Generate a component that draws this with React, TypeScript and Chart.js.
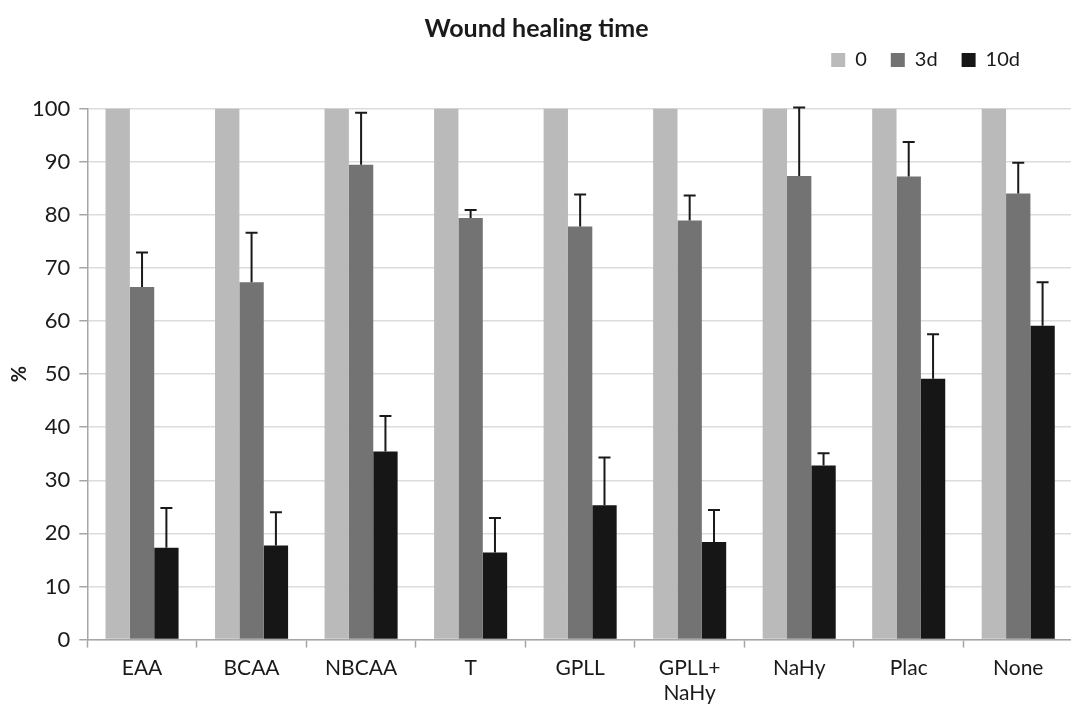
import React, { useEffect, useRef } from 'react';
import { Chart, registerables } from 'chart.js';

Chart.register(...registerables);

const categories: (string | string[])[] = ['EAA', 'BCAA', 'NBCAA', 'T', 'GPLL', ['GPLL+', 'NaHy'], 'NaHy', 'Plac', 'None'];
const seriesNames = ['0', '3d', '10d'];
const values0 = [100, 100, 100, 100, 100, 100, 100, 100, 100];
const values3d = [66.4, 67.3, 89.4, 79.4, 77.8, 78.9, 87.3, 87.2, 84.0];
const values10d = [17.3, 17.7, 35.4, 16.4, 25.3, 18.4, 32.8, 49.1, 59.1];
const errors0 = [0, 0, 0, 0, 0, 0, 0, 0, 0];
const errors3d = [6.5, 9.3, 9.8, 1.5, 6.0, 4.7, 12.9, 6.5, 5.8];
const errors10d = [7.5, 6.3, 6.7, 6.5, 9.0, 6.0, 2.3, 8.4, 8.2];
const yTicks = [0, 10, 20, 30, 40, 50, 60, 70, 80, 90, 100];

const FONT = 'Lato';

const errorBarPlugin = {
  id: 'errorBars',
  afterDatasetsDraw(chart: any) {
    const ctx = chart.ctx;
    const yScale = chart.scales.y;
    chart.data.datasets.forEach((ds: any, i: number) => {
      const errs: number[] | undefined = ds.errors;
      if (!errs) return;
      const meta = chart.getDatasetMeta(i);
      meta.data.forEach((bar: any, j: number) => {
        const e = errs[j];
        if (!e) return;
        const v = ds.data[j];
        const base = yScale.getPixelForValue(v);
        const top = yScale.getPixelForValue(v + e);
        ctx.save();
        ctx.strokeStyle = '#1a1a1a';
        ctx.lineWidth = 2;
        ctx.beginPath();
        ctx.moveTo(bar.x, base);
        ctx.lineTo(bar.x, top);
        ctx.moveTo(bar.x - 6, top);
        ctx.lineTo(bar.x + 6, top);
        ctx.stroke();
        ctx.restore();
      });
    });
  },
};

const legendShiftPlugin = {
  id: 'legendShift',
  afterLayout(chart: any, _args: any, opts: any) {
    const l = chart.legend;
    if (l && opts && opts.shift) {
      l.right -= opts.shift;
      l.left -= opts.shift;
    }
  },
};

export default function App() {
  const ref = useRef<HTMLCanvasElement | null>(null);

  useEffect(() => {
    if (!ref.current) return;
    const chart = new Chart(ref.current, {
      type: 'bar',
      data: {
        labels: categories,
        datasets: [
          { label: seriesNames[0], data: values0, backgroundColor: '#bababa', errors: errors0 } as any,
          { label: seriesNames[1], data: values3d, backgroundColor: '#737373', errors: errors3d } as any,
          { label: seriesNames[2], data: values10d, backgroundColor: '#161616', errors: errors10d } as any,
        ],
      },
      options: {
        responsive: false,
        animation: false,
        events: [],
        layout: { padding: { left: 0, right: 7, top: 0, bottom: -8 } },
        datasets: {
          bar: { categoryPercentage: 0.667, barPercentage: 1, borderWidth: 0 },
        },
        plugins: {
          title: {
            display: true,
            text: 'Wound healing time',
            color: '#1a1a1a',
            font: { family: FONT, size: 25, weight: 'bold', lineHeight: 1.2 },
            padding: { top: 14, bottom: -18 },
          },
          subtitle: {
            display: true,
            text: '',
            weight: 500,
            font: { family: FONT, size: 10, lineHeight: 1 },
            padding: { top: 0, bottom: 18.5 },
          } as any,
          legend: {
            display: true,
            position: 'top',
            align: 'end',
            labels: {
              color: '#1a1a1a',
              font: { family: FONT, size: 20 },
              boxWidth: 14,
              boxHeight: 14,
              padding: 24,
            },
          },
          tooltip: { enabled: false },
          legendShift: { shift: 29 },
        } as any,
        scales: {
          x: {
            offset: true,
            grid: {
              offset: true,
              drawOnChartArea: false,
              drawTicks: true,
              tickLength: 8,
              tickColor: '#a6a6a6',
              tickWidth: 1.5,
            },
            border: { display: true, color: '#a6a6a6', width: 1.5 },
            ticks: {
              color: '#1a1a1a',
              font: { family: FONT, size: 21, lineHeight: 1.2 },
              padding: 8,
              maxRotation: 0,
              autoSkip: false,
            },
          },
          y: {
            min: 0,
            max: 100,
            afterBuildTicks: (scale: any) => {
              scale.ticks = yTicks.map((v) => ({ value: v }));
            },
            grid: {
              color: '#dcdcdc',
              lineWidth: 1.5,
              drawTicks: true,
              tickLength: 8,
              tickColor: '#a6a6a6',
              tickWidth: 1.5,
            },
            border: { display: true, color: '#a6a6a6', width: 1.5 },
            ticks: {
              color: '#1a1a1a',
              font: { family: FONT, size: 22 },
              padding: 9,
            },
            title: {
              display: true,
              text: '%',
              color: '#1a1a1a',
              font: { family: FONT, size: 20, weight: 'bold', lineHeight: 1.2 },
              padding: { top: 8, bottom: -9 },
            },
          },
        },
      } as any,
      plugins: [errorBarPlugin, legendShiftPlugin],
    });
    return () => chart.destroy();
  }, []);

  return (
    <div style={{ position: 'fixed', left: 0, top: 0, width: 1071, height: 706, overflow: 'hidden', background: '#fff' }}>
      <canvas ref={ref} width={1080} height={706} style={{ display: 'block' }} />
    </div>
  );
}
